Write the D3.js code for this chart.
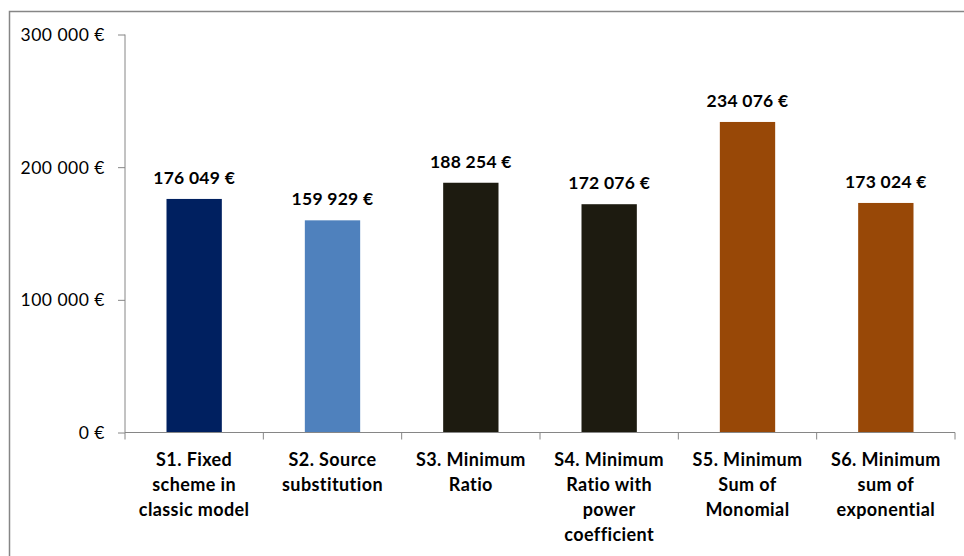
<!DOCTYPE html>
<html><head><meta charset="utf-8">
<script src="https://cdn.jsdelivr.net/npm/d3@7"></script>
<style>html,body{margin:0;padding:0;background:#fff;}svg{display:block;}</style>
</head><body>
<svg id="chart" width="964" height="556"></svg>
<script>
const categories = [
  ["S1. Fixed","scheme in","classic model"],
  ["S2. Source","substitution"],
  ["S3. Minimum","Ratio"],
  ["S4. Minimum","Ratio with","power","coefficient"],
  ["S5. Minimum","Sum of","Monomial"],
  ["S6. Minimum","sum of","exponential"]
];
const values = [176049, 159929, 188254, 172076, 234076, 173024];
const colors = ["#002060", "#4F81BD", "#1D1B10", "#1D1B10", "#984807", "#984807"];
const yTicks = [0, 100000, 200000, 300000];

(function() {
const font = "Lato, 'Open Sans', sans-serif";
const svg = d3.select("#chart");
const pLeft = 125, pRight = 955, pTop = 34.5, pBottom = 432.5;
const axisColor = "#868686";

// outer frame
svg.append("rect").attr("x", 9.5).attr("y", 11.5).attr("width", 1000).attr("height", 1000)
  .attr("fill", "none").attr("stroke", axisColor).attr("stroke-width", 1.5);

const x = d3.scaleBand().domain(d3.range(categories.length)).range([pLeft, pRight]).paddingInner(0.6).paddingOuter(0.3);
const xOuter = d3.scaleBand().domain(d3.range(categories.length)).range([pLeft, pRight]);
const y = d3.scaleLinear().domain([0, 300000]).range([pBottom, pTop]);

const fmt = v => d3.format(",")(v).replace(/,/g, " ") + " €";

// y axis
const yAxis = svg.append("g").attr("transform", `translate(${pLeft},0)`)
  .call(d3.axisLeft(y).tickValues(yTicks).tickSize(7).tickPadding(13).tickFormat(fmt));
yAxis.select(".domain").attr("stroke", axisColor).attr("d", `M0,${pTop}V${pBottom}`);
yAxis.selectAll(".tick line").attr("stroke", axisColor);
yAxis.selectAll(".tick text").attr("fill", "#000").style("font-family", font).style("font-size", "17.5px")
  .style("letter-spacing", "0.5px").attr("dy", "0.35em");

// bars
svg.append("g").selectAll("rect").data(values).join("rect")
  .attr("x", (d, i) => x(i)).attr("width", x.bandwidth())
  .attr("y", d => y(d)).attr("height", d => y(0) - y(d))
  .attr("fill", (d, i) => colors[i]);

// value labels
svg.append("g").selectAll("text").data(values).join("text")
  .attr("x", (d, i) => x(i) + x.bandwidth() / 2)
  .attr("y", d => y(d) - 15)
  .attr("text-anchor", "middle")
  .style("font-family", font).style("font-size", "17.5px").style("font-weight", "bold")
  .style("letter-spacing", "0.25px")
  .text(d => fmt(d));

// x axis
const xAxisG = svg.append("g");
xAxisG.append("line").attr("x1", pLeft).attr("x2", pRight).attr("y1", pBottom).attr("y2", pBottom).attr("stroke", axisColor);
const tickPos = d3.range(categories.length + 1).map(i => i < categories.length ? xOuter(i) : xOuter(categories.length - 1) + xOuter.bandwidth());
xAxisG.selectAll("line.t").data(tickPos).join("line").attr("class", "t")
  .attr("x1", d => d).attr("x2", d => d).attr("y1", pBottom).attr("y2", pBottom + 7).attr("stroke", axisColor);

const labels = svg.append("g").selectAll("text").data(categories).join("text")
  .attr("text-anchor", "middle")
  .style("font-family", font).style("font-size", "18px").style("font-weight", "bold")
  .style("letter-spacing", "0.4px");
labels.each(function(d, i) {
  const t = d3.select(this);
  d.forEach((line, j) => {
    t.append("tspan").attr("x", xOuter(i) + xOuter.bandwidth() / 2).attr("y", 466 + j * 25).text(line);
  });
});
})();
</script>
</body></html>
